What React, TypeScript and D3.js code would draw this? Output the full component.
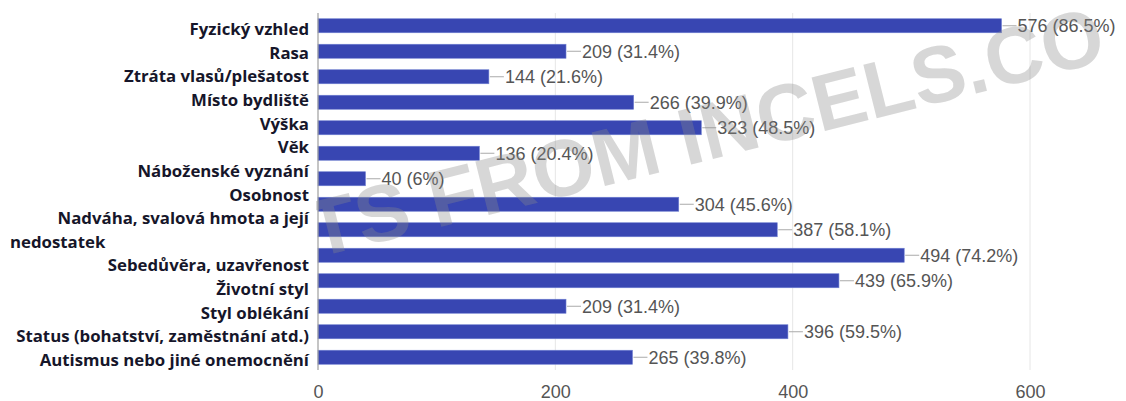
import { useEffect, useRef } from 'react';
import { select, scaleBand, scaleLinear, scalePoint, axisBottom } from 'd3';

// survey answers, top to bottom
const categories = [
  'Fyzický vzhled',
  'Rasa',
  'Ztráta vlasů/plešatost',
  'Místo bydliště',
  'Výška',
  'Věk',
  'Náboženské vyznání',
  'Osobnost',
  'Nadváha, svalová hmota a její nedostatek',
  'Sebedůvěra, uzavřenost',
  'Životní styl',
  'Styl oblékání',
  'Status (bohatství, zaměstnání atd.)',
  'Autismus nebo jiné onemocnění',
];
const counts = [576, 209, 144, 266, 323, 136, 40, 304, 387, 494, 439, 209, 396, 265];
const percents = ['86.5', '31.4', '21.6', '39.9', '48.5', '20.4', '6', '45.6', '58.1', '74.2', '65.9', '31.4', '59.5', '39.8'];

// the left labels were pasted in as lines of their own
const labelLines = [
  'Fyzický vzhled',
  'Rasa',
  'Ztráta vlasů/plešatost',
  'Místo bydliště',
  'Výška',
  'Věk',
  'Náboženské vyznání',
  'Osobnost',
  'Nadváha, svalová hmota a její',
  'nedostatek',
  'Sebedůvěra, uzavřenost',
  'Životní styl',
  'Styl oblékání',
  'Status (bohatství, zaměstnání atd.)',
  'Autismus nebo jiné onemocnění',
];
const wrappedLine = 'nedostatek';

const xTicks = [0, 200, 400, 600];
const watermarkHead = 'SCREENSHOTS';
const watermarkTail = 'FROM INCELS.CO';

const WIDTH = 1126;
const HEIGHT = 401;

export default function App() {
  const svgRef = useRef<SVGSVGElement>(null);

  useEffect(() => {
    if (!svgRef.current) return;
    const svg = select(svgRef.current);
    svg.selectAll('*').remove();

    const plot = { left: 318, right: 1030, top: 13, bottom: 370 };
    const barColor = '#3846b2';
    const textGray = '#555';
    const valueFont = '"Liberation Sans", Arial, sans-serif';

    const x = scaleLinear().domain([0, 600]).range([plot.left, plot.right]);
    const y = scaleBand<string>()
      .domain(categories)
      .range([plot.top, plot.bottom])
      .paddingInner(0.45)
      .paddingOuter(0.225);
    const labelY = scalePoint<string>().domain(labelLines).range([35, 366]);

    // gridlines
    svg.append('g')
      .selectAll('line')
      .data(xTicks.slice(1))
      .enter()
      .append('line')
      .attr('x1', (d) => x(d))
      .attr('x2', (d) => x(d))
      .attr('y1', plot.top)
      .attr('y2', plot.bottom)
      .attr('stroke', '#e6e6e6')
      .attr('stroke-width', 1);

    // bars
    svg.append('g')
      .selectAll('rect')
      .data(categories)
      .enter()
      .append('rect')
      .attr('x', x(0))
      .attr('y', (d) => y(d) || 0)
      .attr('width', (_, i) => x(counts[i]) - x(0))
      .attr('height', y.bandwidth())
      .attr('fill', barColor)
      .attr('stroke', '#6f7fd0')
      .attr('stroke-width', 0.6);

    // zero axis line
    svg.append('line')
      .attr('x1', x(0))
      .attr('x2', x(0))
      .attr('y1', plot.top)
      .attr('y2', plot.bottom)
      .attr('stroke', '#9e9e9e')
      .attr('stroke-width', 1.2);

    // value labels with leader lines
    const vals = svg.append('g');
    categories.forEach((c, i) => {
      const cy = (y(c) || 0) + y.bandwidth() / 2;
      const x0 = x(counts[i]);
      vals.append('line')
        .attr('x1', x0 + 1)
        .attr('x2', x0 + 15)
        .attr('y1', cy)
        .attr('y2', cy)
        .attr('stroke', '#aaa')
        .attr('stroke-width', 1);
      vals.append('text')
        .attr('x', x0 + 16)
        .attr('y', cy + 6.5)
        .attr('font-family', valueFont)
        .attr('font-size', 18)
        .attr('fill', textGray)
        .text(`${counts[i]} (${percents[i]}%)`);
    });

    // x axis ticks
    const axis = svg.append('g')
      .attr('transform', `translate(0,${plot.bottom})`)
      .call(axisBottom(x).tickValues(xTicks).tickSize(0).tickPadding(15).tickFormat((d) => String(d)));
    axis.select('.domain').remove();
    axis.selectAll('text')
      .attr('font-family', valueFont)
      .attr('font-size', 18)
      .attr('fill', textGray);

    // category labels
    svg.append('g')
      .selectAll('text')
      .data(labelLines)
      .enter()
      .append('text')
      .attr('x', (d) => (d === wrappedLine ? 10 : 309))
      .attr('y', (d) => labelY(d) || 0)
      .attr('text-anchor', (d) => (d === wrappedLine ? 'start' : 'end'))
      .attr('font-family', '"Open Sans", "Noto Sans", sans-serif')
      .attr('font-weight', 700)
      .attr('font-size', 16.8)
      .attr('fill', '#16162a')
      .text((d) => d);

    // watermark, only visible over the chart image
    svg.append('clipPath')
      .attr('id', 'wm-clip')
      .append('rect')
      .attr('x', plot.left - 2)
      .attr('y', 0)
      .attr('width', WIDTH - plot.left)
      .attr('height', HEIGHT);

    const wm = svg.append('g')
      .attr('clip-path', 'url(#wm-clip)')
      .append('g')
      .attr('transform', 'translate(436,228) rotate(-14)')
      .attr('font-family', '"Liberation Sans", Arial, sans-serif')
      .attr('font-weight', 700)
      .attr('font-size', 80)
      .attr('fill', '#8a8a8a')
      .attr('fill-opacity', 0.34);
    wm.append('text').attr('x', -22).attr('text-anchor', 'end').text(watermarkHead);
    wm.append('text').attr('x', 0).text(watermarkTail);
  }, []);

  return (
    <svg
      ref={svgRef}
      width={WIDTH}
      height={HEIGHT}
      style={{ position: 'absolute', left: 0, top: 0, background: '#fff' }}
    />
  );
}
